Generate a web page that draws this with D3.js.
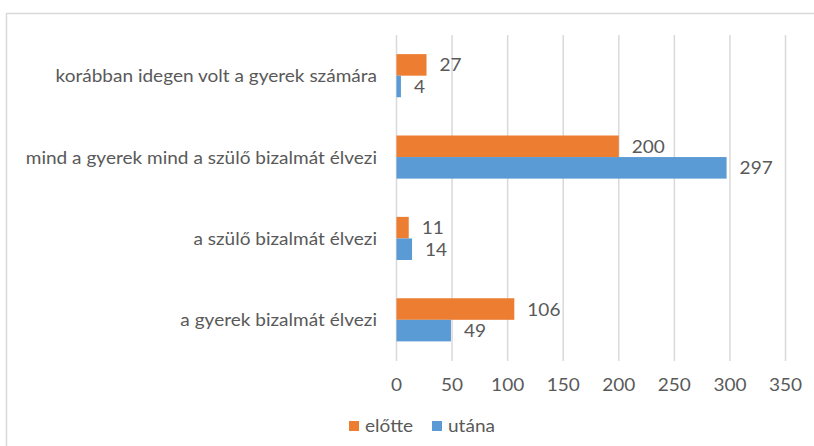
<!DOCTYPE html>
<html>
<head>
<meta charset="utf-8">
<script src="https://cdn.jsdelivr.net/npm/d3@7"></script>
<style>
  html, body { margin: 0; padding: 0; background: #fff; }
  svg { display: block; }
  text { font-family: Lato, "Open Sans", sans-serif; fill: #595959; }
</style>
</head>
<body>
<svg id="chart" width="814" height="446"></svg>
<script>
const categories = [
  "korábban idegen volt a gyerek számára",
  "mind a gyerek mind a szülő bizalmát élvezi",
  "a szülő bizalmát élvezi",
  "a gyerek bizalmát élvezi"
];
const seriesNames = ["előtte", "utána"];
const elotte = [27, 200, 11, 106];
const utana = [4, 297, 14, 49];
const tickValues = [0, 50, 100, 150, 200, 250, 300, 350];
const colors = ["#ED7D31", "#5B9BD5"];

const SX = 1.12; // horizontal stretch of the reference text
const pos = (px, py) => `translate(${px},${py}) scale(${SX},1)`;

const svg = d3.select("#chart");
svg.append("rect").attr("x", 0).attr("y", 0).attr("width", 814).attr("height", 446).attr("fill", "#fff");
svg.append("rect")
  .attr("x", 6.5).attr("y", 13.5).attr("width", 900).attr("height", 500)
  .attr("fill", "none").attr("stroke", "#D9D9D9").attr("stroke-width", 1.5);

const x = d3.scaleLinear().domain([0, 350]).range([396.5, 785.5]);
const y = d3.scaleBand().domain(categories).range([35, 360.5]).paddingInner(0.47).paddingOuter(0.235);
const ySub = d3.scaleBand().domain(seriesNames).range([0, y.bandwidth()]);

// gridlines
svg.append("g").selectAll("line").data(tickValues).join("line")
  .attr("x1", d => x(d)).attr("x2", d => x(d))
  .attr("y1", 35).attr("y2", 361)
  .attr("stroke", "#D9D9D9").attr("stroke-width", 1.5);

// tick labels
svg.append("g").selectAll("text").data(tickValues).join("text")
  .attr("transform", d => pos(x(d), 384))
  .attr("text-anchor", "middle").attr("dominant-baseline", "central")
  .attr("font-size", 17).text(d => d);

// category labels
svg.append("g").selectAll("text").data(categories).join("text")
  .attr("transform", d => pos(377, y(d) + y.bandwidth() / 2))
  .attr("text-anchor", "end").attr("dominant-baseline", "central")
  .attr("font-size", 17).text(d => d);

const rows = [];
categories.forEach((c, i) => {
  rows.push({ cat: c, s: seriesNames[0], v: elotte[i], col: colors[0] });
  rows.push({ cat: c, s: seriesNames[1], v: utana[i], col: colors[1] });
});

svg.append("g").selectAll("rect").data(rows).join("rect")
  .attr("x", x(0))
  .attr("y", d => y(d.cat) + ySub(d.s))
  .attr("width", d => x(d.v) - x(0))
  .attr("height", ySub.bandwidth())
  .attr("fill", d => d.col);

svg.append("g").selectAll("text").data(rows).join("text")
  .attr("transform", d => pos(x(d.v) + 13, y(d.cat) + ySub(d.s) + ySub.bandwidth() / 2))
  .attr("dominant-baseline", "central")
  .attr("font-size", 17).text(d => d.v);

// legend
const legendItems = [
  { name: seriesNames[0], col: colors[0], x: 349 },
  { name: seriesNames[1], col: colors[1], x: 432 }
];
const lg = svg.append("g").selectAll("g").data(legendItems).join("g");
lg.append("rect").attr("x", d => d.x).attr("y", 421).attr("width", 10).attr("height", 10).attr("fill", d => d.col);
lg.append("text").attr("transform", d => pos(d.x + 16, 425))
  .attr("dominant-baseline", "central").attr("font-size", 17).text(d => d.name);
</script>
</body>
</html>
